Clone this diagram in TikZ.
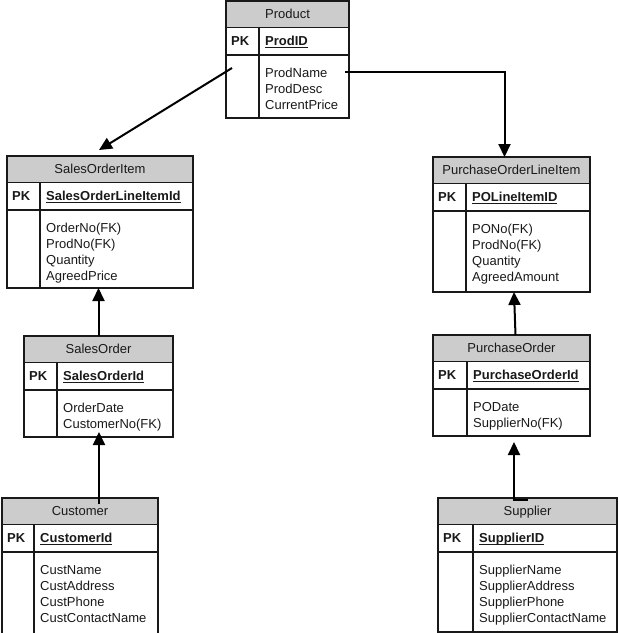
\documentclass[tikz,border=0pt]{standalone}
\usepackage{fontspec}
\setmainfont{Liberation Sans}
\usetikzlibrary{arrows.meta,calc}
\definecolor{headgray}{RGB}{204,204,204}
\definecolor{ink}{RGB}{25,25,25}
\newcommand\keyul[1]{{\setbox0\hbox{#1}\rlap{\rule[-2.8pt]{\wd0}{1pt}}\box0}}
\tikzset{
  tabbox/.style={draw=ink, line width=1.1pt, inner sep=0pt, outer sep=0pt},
  tabline/.style={draw=ink, line width=1.1pt},
  headfill/.style={fill=headgray},
  txt/.style={inner sep=0pt, text=ink, font=\fontsize{13}{16}\selectfont},
  titletext/.style={txt, anchor=base},
  pktext/.style={txt, anchor=base west, font=\fontsize{13}{16}\selectfont\bfseries},
  bodytext/.style={txt, anchor=base west},
  conn/.style={draw=black, line width=2pt, -{Triangle[length=13pt,width=12pt]}}
}
% #1 name, #2 x, #3 y, #4 width, #5 height, #6 divider offset, #7 title, #8 key, #9 body
\newcommand\ertab[9]{%
  \fill[headfill] (#2,#3) rectangle (#2+#4,#3+26.5);
  \node[tabbox, minimum width=#4pt, minimum height=#5pt, anchor=north west] (#1) at (#2,#3) {};
  \draw[tabline] (#2,#3+26.5) -- (#2+#4,#3+26.5);
  \draw[tabline] (#2,#3+54) -- (#2+#4,#3+54);
  \draw[tabline] (#2+#6,#3+26.5) -- (#2+#6,#3+#5);
  \node[titletext] (#1-title) at (#2+#4/2,#3+17.5) {#7};
  \node[pktext] (#1-pk) at (#2+5,#3+44) {PK};
  \node[pktext] (#1-key) at (#2+#6+6,#3+44) {\keyul{#8}};
  \node[bodytext] (#1-body) at (#2+#6+6,#3+76) {\begin{tabular}[t]{@{}l@{}}#9\end{tabular}};
}
\begin{document}
\begin{tikzpicture}[x=1pt,y=-1pt]
\useasboundingbox (0,0) rectangle (619,633);
\ertab{product}{226}{1}{123}{117}{33}{Product}{ProdID}{ProdName\\ProdDesc\\CurrentPrice}
\ertab{soi}{7}{156}{186}{132}{33}{SalesOrderItem}{SalesOrderLineItemId}{OrderNo(FK)\\ProdNo(FK)\\Quantity\\AgreedPrice}
\ertab{poli}{433}{157}{157}{135}{33}{PurchaseOrderLineItem}{POLineItemID}{PONo(FK)\\ProdNo(FK)\\Quantity\\AgreedAmount}
\ertab{so}{24}{336}{149}{101}{33}{SalesOrder}{SalesOrderId}{OrderDate\\CustomerNo(FK)}
\ertab{po}{433}{335}{157}{101}{34}{PurchaseOrder}{PurchaseOrderId}{PODate\\SupplierNo(FK)}
\ertab{cust}{2}{498}{156}{140}{32}{Customer}{CustomerId}{CustName\\CustAddress\\CustPhone\\CustContactName}
\ertab{sup}{438}{498}{179}{134}{35}{Supplier}{SupplierID}{SupplierName\\SupplierAddress\\SupplierPhone\\SupplierContactName}
% connector start points
\coordinate (p1) at (232,68);
\coordinate (p2) at (345,72);
\coordinate (c1) at (99,504);
\coordinate (s1) at (528,500);
% connectors
\draw[conn] (p1) -- ([xshift=-1pt,yshift=6pt]soi.north);
\draw[conn] (p2) -| ([xshift=-7pt]poli.north);
\draw[conn] (so.north) -- (so.north |- soi.south);
\draw[conn] (c1) -- ([yshift=5pt]c1 |- so.south);
\draw[conn] ([xshift=4pt]po.north) -- ([xshift=2.5pt]poli.south);
\draw[conn] (s1) -| ([xshift=2.5pt,yshift=-6pt]po.south);
\end{tikzpicture}
\end{document}
